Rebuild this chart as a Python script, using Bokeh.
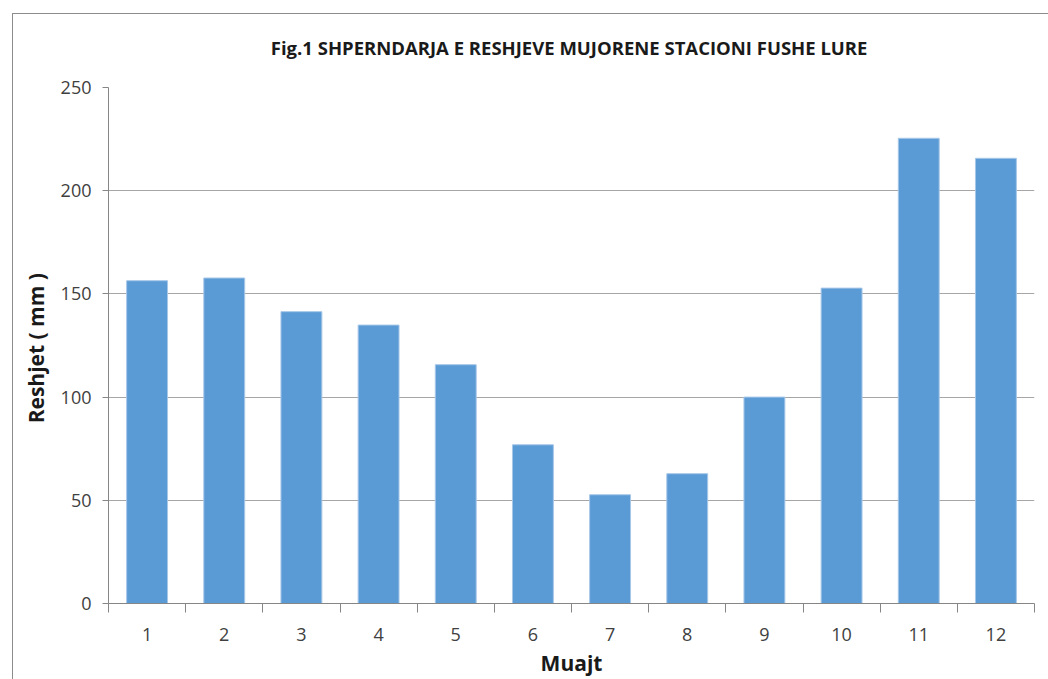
from bokeh.plotting import figure
from bokeh.models import FixedTicker, Range1d
from bokeh.embed import file_html
from bokeh.resources import INLINE

# Data
months = [1, 2, 3, 4, 5, 6, 7, 8, 9, 10, 11, 12]
month_labels = ["1", "2", "3", "4", "5", "6", "7", "8", "9", "10", "11", "12"]
rainfall_mm = [156.4, 157.7, 141.4, 134.9, 115.7, 76.9, 52.7, 62.9, 100.0, 152.8, 225.4, 215.7]
y_ticks = [0, 50, 100, 150, 200, 250]

FONT = "Open Sans"
TXT = "#404040"
AXIS = "#868686"
FRAME = "#8c8c8c"

bg = ("linear-gradient(%s,%s) 12px 13px / 1px 100%% no-repeat, "
      "linear-gradient(%s,%s) 12px 13px / 100%% 1px no-repeat, white") % (FRAME, FRAME, FRAME, FRAME)

p = figure(width=1048, height=679, output_backend="svg", toolbar_location=None,
           x_range=Range1d(0.5, 12.5), y_range=Range1d(0, 250),
           min_border_left=108, min_border_right=14, min_border_top=87, min_border_bottom=76,
           styles={"background": bg})

p.vbar(x=months, top=rainfall_mm, width=0.53, fill_color="#5B9BD5",
       line_color="#a7c7e8", line_width=1)

p.title.text = "Fig.1  SHPERNDARJA E RESHJEVE MUJORENE STACIONI FUSHE LURE"
p.title.align = "center"
p.title.offset = -7
p.title.text_font = FONT
p.title.text_font_size = "18.5px"
p.title.text_font_style = "bold"
p.title.text_color = "#1a1a1a"
p.title.standoff = 55

p.outline_line_color = None
p.background_fill_color = "white"
p.border_fill_color = None

# x axis
p.xaxis.ticker = FixedTicker(ticks=months, minor_ticks=[m - 0.5 for m in months] + [12.5])
p.xaxis.major_label_overrides = {m: l for m, l in zip(months, month_labels)}
p.xaxis.major_tick_line_color = None
p.xaxis.minor_tick_line_color = AXIS
p.xaxis.minor_tick_in = 0
p.xaxis.minor_tick_out = 9
p.xaxis.axis_line_color = AXIS
p.xaxis.major_label_text_font = FONT
p.xaxis.major_label_text_font_size = "18px"
p.xaxis.major_label_text_color = TXT
p.xaxis.major_label_standoff = 15
p.xaxis.axis_label = "Muajt"
p.xaxis.axis_label_text_font = FONT
p.xaxis.axis_label_text_font_size = "21px"
p.xaxis.axis_label_text_font_style = "bold"
p.xaxis.axis_label_text_color = "#1a1a1a"
p.xaxis.axis_label_standoff = 5
p.xgrid.visible = False

# y axis
p.yaxis.ticker = FixedTicker(ticks=y_ticks)
p.yaxis.minor_tick_line_color = None
p.yaxis.major_tick_in = 0
p.yaxis.major_tick_out = 6
p.yaxis.major_tick_line_color = AXIS
p.yaxis.axis_line_color = AXIS
p.yaxis.major_label_text_font = FONT
p.yaxis.major_label_text_font_size = "18px"
p.yaxis.major_label_text_color = TXT
p.yaxis.major_label_standoff = 11
p.yaxis.axis_label = "Reshjet  ( mm )"
p.yaxis.axis_label_text_font = FONT
p.yaxis.axis_label_text_font_size = "21px"
p.yaxis.axis_label_text_font_style = "bold"
p.yaxis.axis_label_text_color = "#1a1a1a"
p.yaxis.axis_label_standoff = 8
p.ygrid.ticker = FixedTicker(ticks=y_ticks)
p.ygrid.grid_line_color = "#a6a6a6"
p.ygrid.grid_line_width = 1

open("out.html", "w").write(file_html(p, INLINE))
